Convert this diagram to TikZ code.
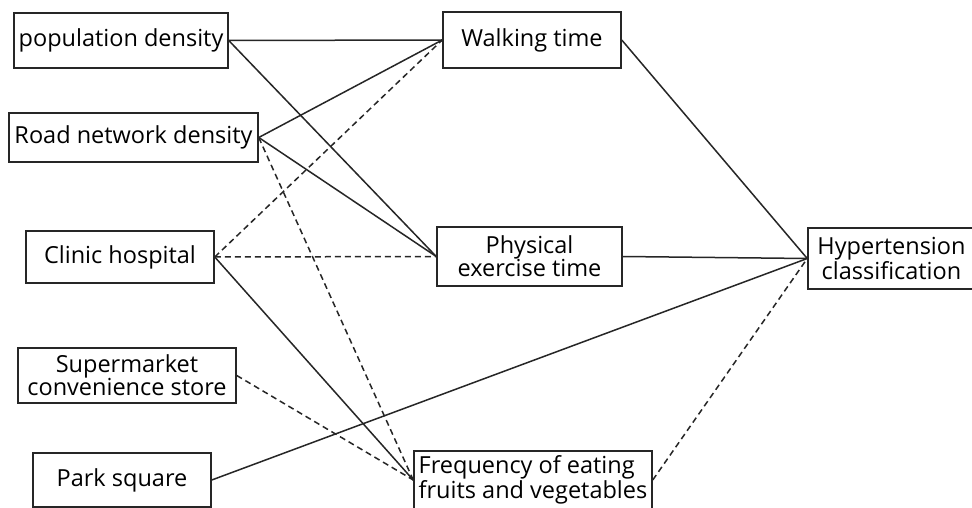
\documentclass[tikz,border=0pt]{standalone}
\usepackage{fontspec}
\setmainfont{Open Sans}
\begin{document}
\begin{tikzpicture}[x=1pt,y=-1pt,
  box/.style={draw=black!85, line width=1.5pt, rectangle, inner sep=0pt, align=center,
    font=\fontsize{23.5}{23}\selectfont, text=black},
  link/.style={draw=black!85, line width=1.5pt},
  dlink/.style={link, dash pattern=on 6pt off 4pt}]
\useasboundingbox (0,0) rectangle (972,508);
\clip (0,0) rectangle (972,508);
\fill[white] (0,0) rectangle (972,508);
\node[box, minimum width=214pt, minimum height=55pt] (pop) at (121,40.5) {population density};
\node[box, minimum width=249pt, minimum height=49pt] (road) at (133.5,137.5) {Road network density};
\node[box, minimum width=188pt, minimum height=52pt] (clinic) at (120,257) {Clinic hospital};
\node[box, minimum width=218pt, minimum height=55pt] (super) at (127,375.5) {Supermarket\\convenience store};
\node[box, minimum width=178pt, minimum height=54pt] (park) at (122,480) {Park square};
\node[box, minimum width=178pt, minimum height=56pt] (walk) at (532,40) {Walking time};
\node[box, minimum width=185pt, minimum height=59pt] (phys) at (529.5,256.5) {Physical\\exercise time};
\node[box, minimum width=167pt, minimum height=61pt] (hyp) at (891.5,258.5) {Hypertension\\classification};
\node[box, minimum width=238pt, minimum height=58pt, align=left] (freq) at (533,480) {Frequency of eating\\fruits and vegetables};
% solid links
\draw[link] (pop.east) -- (walk.west);
\draw[link] (pop.east) -- (phys.west);
\draw[link] (road.east) -- (walk.west);
\draw[link] (road.east) -- (phys.west);
\draw[link] (clinic.east) -- (freq.west);
\draw[link] (park.east) -- (hyp.west);
\draw[link] (walk.east) -- (hyp.west);
\draw[link] (phys.east) -- (hyp.west);
% dashed links
\draw[dlink] (road.east) -- (freq.west);
\draw[dlink] (clinic.east) -- (walk.west);
\draw[dlink] (clinic.east) -- (phys.west);
\draw[dlink] (super.east) -- (freq.west);
\draw[dlink] (freq.east) -- (hyp.west);
\end{tikzpicture}
\end{document}
